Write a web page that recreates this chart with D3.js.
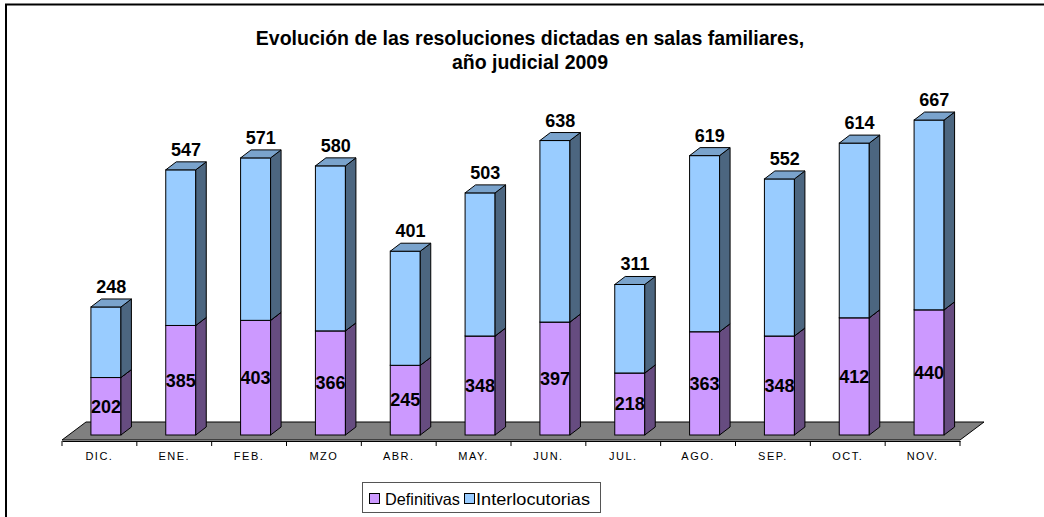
<!DOCTYPE html>
<html>
<head>
<meta charset="utf-8">
<script src="https://cdn.jsdelivr.net/npm/d3@7"></script>
<style>
  body { margin: 0; background: #fff; }
  text { font-family: Arial, "Liberation Sans", sans-serif; }
</style>
</head>
<body>
<div id="canvas"></div>
<script>
var categories = ["DIC.", "ENE.", "FEB.", "MZO", "ABR.", "MAY.", "JUN.", "JUL.", "AGO.", "SEP.", "OCT.", "NOV."];
var definitivas = [202, 385, 403, 366, 245, 348, 397, 218, 363, 348, 412, 440];
var interlocutorias = [248, 547, 571, 580, 401, 503, 638, 311, 619, 552, 614, 667];
var seriesNames = ["Definitivas", "Interlocutorias"];

var colors = {
  Definitivas: { front: "#cc99ff", side: "#664c80", top: "#a37acc" },
  Interlocutorias: { front: "#99ccff", side: "#4c6680", top: "#7aa3cc" }
};

var width = 1044,
  height = 517;

var svg = d3
  .select("#canvas")
  .append("svg")
  .attr("width", width)
  .attr("height", height);

// outer frame (only top and left edges visible)
svg
  .append("path")
  .attr("d", "M6,520 V4.5 H1050")
  .attr("fill", "none")
  .attr("stroke", "#000")
  .attr("stroke-width", 2);

svg
  .append("text")
  .attr("x", 530)
  .attr("y", 45)
  .attr("text-anchor", "middle")
  .style("font-size", "19.5px")
  .style("font-weight", "bold")
  .text("Evolución de las resoluciones dictadas en salas familiares,");

svg
  .append("text")
  .attr("x", 530)
  .attr("y", 69)
  .attr("text-anchor", "middle")
  .style("font-size", "19.5px")
  .style("font-weight", "bold")
  .text("año judicial 2009");

var table = categories.map(function(c, i) {
  return { cat: c, Definitivas: definitivas[i], Interlocutorias: interlocutorias[i] };
});
var stacked = d3.stack().keys(seriesNames)(table);

var x = d3
  .scaleBand()
  .domain(categories)
  .range([62, 960]);

var y = d3
  .scaleLinear()
  .domain([0, 1200])
  .range([435, 435 - 1200 * 0.2845]);

// 3d offsets
var floorDx = 24,
  floorDy = -18,
  barDx = 10.5,
  barDy = -8,
  barW = 30,
  barShift = 6.5;

// floor
var floorY = 440;
svg
  .append("polygon")
  .attr("points", [
    [x.range()[0], floorY],
    [x.range()[1], floorY],
    [x.range()[1] + floorDx, floorY + floorDy],
    [x.range()[0] + floorDx, floorY + floorDy]
  ].join(" "))
  .attr("fill", "#808080")
  .attr("stroke", "#000")
  .attr("stroke-width", 1);

// category axis
var axis = svg
  .append("g")
  .attr("transform", "translate(0," + (floorY + 1) + ")")
  .call(d3.axisBottom(x).tickSize(0).tickPadding(11));
axis.select(".domain").attr("stroke", "#000");
axis.selectAll("text")
  .style("font-size", "11px")
  .style("letter-spacing", "1.5px")
  .style("font-family", "Arial, 'Liberation Sans', sans-serif")
  .attr("fill", "#000");

svg
  .append("g")
  .selectAll("line")
  .data(d3.range(categories.length + 1))
  .enter()
  .append("line")
  .attr("x1", function(i) { return x.range()[0] + i * x.bandwidth(); })
  .attr("x2", function(i) { return x.range()[0] + i * x.bandwidth(); })
  .attr("y1", floorY + 1)
  .attr("y2", floorY + 6)
  .attr("stroke", "#000");

function barLeft(cat) {
  return x(cat) + x.bandwidth() / 2 + barShift - barW / 2;
}

// bars
var gBars = svg.append("g");
categories.forEach(function(cat, i) {
  var x0 = barLeft(cat);
  stacked.forEach(function(layer) {
    var d = layer[i];
    var y0 = y(d[0]),
      y1 = y(d[1]);
    var c = colors[layer.key];
    gBars
      .append("rect")
      .attr("x", x0)
      .attr("y", y1)
      .attr("width", barW)
      .attr("height", y0 - y1)
      .attr("fill", c.front)
      .attr("stroke", "#000")
      .attr("stroke-width", 1);
    gBars
      .append("polygon")
      .attr("points", [
        [x0 + barW, y0],
        [x0 + barW + barDx, y0 + barDy],
        [x0 + barW + barDx, y1 + barDy],
        [x0 + barW, y1]
      ].join(" "))
      .attr("fill", c.side)
      .attr("stroke", "#000")
      .attr("stroke-width", 1);
    gBars
      .append("polygon")
      .attr("points", [
        [x0, y1],
        [x0 + barW, y1],
        [x0 + barW + barDx, y1 + barDy],
        [x0 + barDx, y1 + barDy]
      ].join(" "))
      .attr("fill", c.top)
      .attr("stroke", "#000")
      .attr("stroke-width", 1);
  });
});

// labels: Definitivas inside, Interlocutorias above bar
var gLabels = svg.append("g");
gLabels
  .selectAll("text.def")
  .data(stacked[0])
  .enter()
  .append("text")
  .attr("class", "def")
  .attr("x", function(d) { return barLeft(d.data.cat) + barW / 2; })
  .attr("y", function(d) { return (y(d[0]) + y(d[1])) / 2; })
  .attr("dy", "0.35em")
  .attr("text-anchor", "middle")
  .style("font-size", "18px")
  .style("font-weight", "bold")
  .text(function(d) { return d.data.Definitivas; });

gLabels
  .selectAll("text.int")
  .data(stacked[1])
  .enter()
  .append("text")
  .attr("class", "int")
  .attr("x", function(d) { return barLeft(d.data.cat) + barW / 2 + barDx / 2; })
  .attr("y", function(d) { return y(d[1]) + barDy - 6; })
  .attr("text-anchor", "middle")
  .style("font-size", "18px")
  .style("font-weight", "bold")
  .text(function(d) { return d.data.Interlocutorias; });

// legend
var legend = svg.append("g");
legend
  .append("rect")
  .attr("x", 362.5)
  .attr("y", 482.5)
  .attr("width", 238)
  .attr("height", 30)
  .attr("fill", "#fff")
  .attr("stroke", "#555")
  .attr("stroke-width", 1);

var legendItems = [
  { name: "Definitivas", sx: 369.5, tx: 385, w: 75 },
  { name: "Interlocutorias", sx: 464.5, tx: 476, w: 114 }
];
legend
  .selectAll("rect.sw")
  .data(legendItems)
  .enter()
  .append("rect")
  .attr("class", "sw")
  .attr("x", function(d) { return d.sx; })
  .attr("y", 493.5)
  .attr("width", 10)
  .attr("height", 10)
  .attr("fill", function(d) { return colors[d.name].front; })
  .attr("stroke", "#000");
legend
  .selectAll("text")
  .data(legendItems)
  .enter()
  .append("text")
  .attr("x", function(d) { return d.tx; })
  .attr("y", 505)
  .attr("textLength", function(d) { return d.w; })
  .attr("lengthAdjust", "spacingAndGlyphs")
  .style("font-size", "16.5px")
  .text(function(d) { return d.name; });
</script>
</body>
</html>
